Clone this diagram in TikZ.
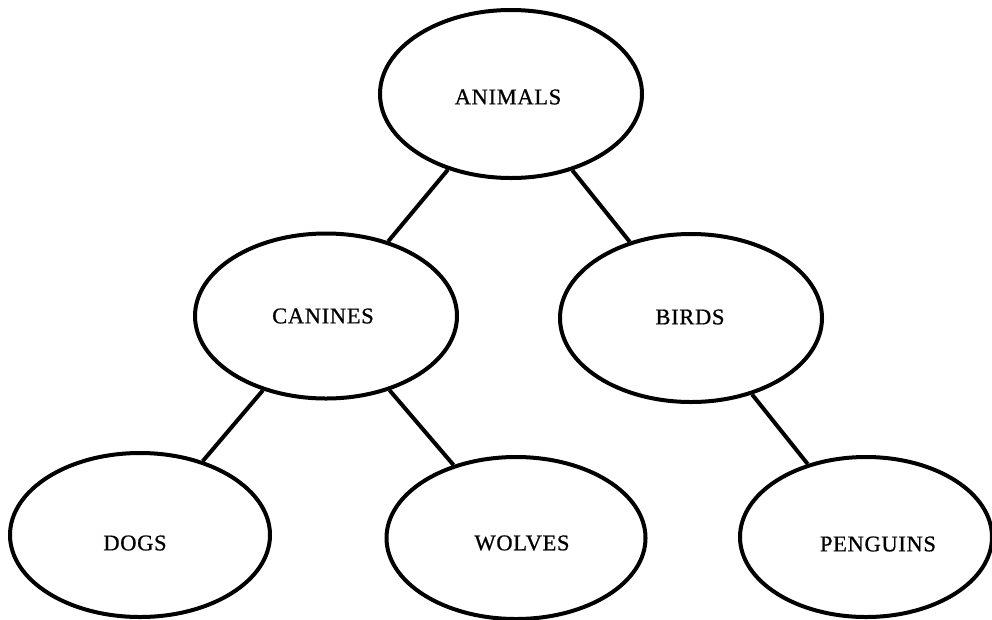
\documentclass[tikz,border=0pt]{standalone}
\usepackage{fontspec}
\setmainfont{Liberation Serif}[LetterSpace=3, FakeBold=0.8]
\usetikzlibrary{shapes.geometric}
\begin{document}
\begin{tikzpicture}[x=1pt,y=-1pt,
  nodebox/.style={ellipse, draw, line width=4pt, inner sep=0pt},
  labeltext/.style={font=\fontsize{22.5}{26}\selectfont, inner sep=0pt},
  edge/.style={line width=4pt}]
\useasboundingbox (0,0) rectangle (992,619);
\node[nodebox, minimum width=262pt, minimum height=168pt,
  label={[labeltext, xshift=-3pt, yshift=-3pt]center:ANIMALS}] (animals) at (511,94) {};
\node[nodebox, minimum width=262pt, minimum height=165pt,
  label={[labeltext, xshift=-3pt, yshift=0pt]center:CANINES}] (canines) at (326,316) {};
\node[nodebox, minimum width=262pt, minimum height=168pt,
  label={[labeltext, xshift=-1pt, yshift=1pt]center:BIRDS}] (birds) at (691,318) {};
\node[nodebox, minimum width=260pt, minimum height=164pt,
  label={[labeltext, xshift=-5pt, yshift=-8pt]center:DOGS}] (dogs) at (140,535) {};
\node[nodebox, minimum width=259pt, minimum height=162pt,
  label={[labeltext, xshift=6pt, yshift=-5pt]center:WOLVES}] (wolves) at (516,538) {};
\node[nodebox, minimum width=252pt, minimum height=160pt,
  label={[labeltext, xshift=12pt, yshift=-7pt]center:PENGUINS}] (penguins) at (866,537) {};
\draw[edge] (animals) -- (canines);
\draw[edge] (animals) -- (birds);
\draw[edge] (canines) -- (dogs);
\draw[edge] (canines) -- (wolves);
\draw[edge] (birds) -- (penguins);
\end{tikzpicture}
\end{document}
